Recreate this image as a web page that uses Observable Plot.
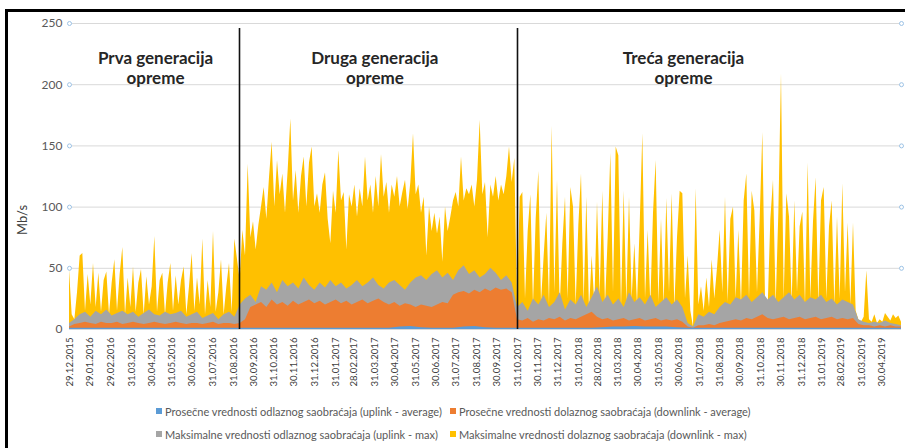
<!DOCTYPE html>
<html><head><meta charset="utf-8">
<script src="https://cdn.jsdelivr.net/npm/d3@7"></script>
<script src="https://cdn.jsdelivr.net/npm/@observablehq/plot@0.6"></script>
<style>
body{margin:0;background:#fff;width:905px;height:448px;position:relative;overflow:hidden;font-family:Lato,sans-serif}
#frame{position:absolute;left:5px;top:9px;width:920px;height:460px;border-top:3px solid #000;border-left:3px solid #000;box-sizing:border-box;pointer-events:none}
#chart{position:absolute;left:0;top:0}
#ylab{position:absolute;left:22px;top:220px;transform:translate(-50%,-50%) rotate(-90deg);font-size:13px;color:#404040;white-space:nowrap}
.leg{position:absolute;font-size:11px;color:#595959;white-space:nowrap;display:flex;align-items:center;height:14px}
.sw{width:6px;height:6px;margin-right:3px;display:inline-block}
</style>
</head><body>
<div id="chart"></div>
<div id="ylab">Mb/s</div>
<div id="legend"></div>
<div id="frame"></div>
<script>
// ---- data (daily series) ----
const startDate = "29.12.2015";
// downlink max, every 4 days
const downMax = [
49,12,8,30,60,62,15,45,20,54, 18,46,14,40,47,12,38,57,15,45,
67,12,42,18,51,14,38,49,12,43, 20,35,76,14,40,46,12,38,54,15,
44,20,40,51,12,35,62,15,42,20, 74,12,40,18,80,14,30,57,12,35,
54,14,74,57,
40,81,60,135,75,88,65,85,100,116,
90,124,153,100,138,110,127,95,130,172,
105,130,95,125,141,100,136,149,100,111,
95,118,128,90,70,113,95,146,105,112,
65,110,100,118,92,115,100,141,105,118,
95,125,100,143,108,120,95,118,108,125,
100,112,122,98,120,160,110,118,95,108,
60,100,80,95,78,92,55,100,80,92,
105,112,100,141,105,115,110,118,100,122,
171,110,120,75,118,108,125,105,118,110,
125,149,120,140,
20,108,112,25,80,110,20,90,129,22,
60,95,20,166,30,122,18,70,108,25,
116,100,20,85,127,22,108,15,60,20,
104,28,113,20,75,144,30,149,142,18,
113,22,108,25,70,20,85,160,25,81,
20,95,138,22,90,20,107,30,111,18,
75,113,111,25,60,15,2,115,20,35,
15,42,18,57,25,50,81,30,108,22,
90,100,25,81,20,105,127,25,113,97,
30,90,161,25,18,90,122,20,95,209,
25,111,92,22,105,30,84,96,20,136,
25,88,124,20,105,116,25,84,105,20,
92,25,119,30,87,20,87,15,8,6,
10,48,8,6,12,5,8,6,13,10,
7,12,9,11,6
];
// uplink max, every 8 days
const upMax = [
5,8,12,14,10,15,12,16,11,13,15,12,14,10,13,16,12,11,14,12,13,15,10,12,14,9,11,13,8,12,14,10,
20,25,28,22,35,32,38,30,40,35, 38,33,42,36,32,38,34,40,35,38, 33,36,40,35,38,42,36,33,38,40,
36,32,38,42,44,40,45,48,42,46, 40,48,52,45,48,42,45,50,46,40, 44,38,
18,22,15,25,20,28,18,22,30,16, 24,20,28,18,26,35,22,28,20,25, 18,30,22,26,20,28,18,22,26,20,
24,18,5,2,12,10,14,12,18,22, 20,26,24,28,22,26,30,24,28,22, 26,30,24,28,22,26,24,28,22,25,
20,24,22,20,8,6,5,6,5,7, 5,4,3
];
// downlink average, every 8 days
const downAvg = [
2,4,5,6,5,4,6,5,5,6,4,5,6,5,4,5,6,5,4,5,6,5,4,5,5,4,5,6,4,5,5,4,
5,8,18,20,22,18,24,20,22,19, 23,20,22,24,21,23,20,22,24,21, 23,20,22,24,21,23,25,22,20,22,
19,21,20,18,20,19,18,20,22,21, 28,30,31,29,32,30,33,31,34,32, 33,30,
8,7,9,6,8,7,9,8,10,7, 9,8,10,12,14,10,8,9,7,8, 9,7,8,9,7,8,9,7,8,7,
8,6,2,1,3,3,4,3,5,6, 7,8,7,9,8,10,12,9,8,9, 10,8,9,10,8,9,10,8,9,10,
8,9,8,9,4,3,3,2,3,2, 3,2,2
];
// uplink average, every 16 days
const upAvg = [
1,1,1,1,1,1,1,1,1,1, 1,1,1,1,1,1,1,1,1,1, 1,1,1,1,1,1,1,1,1,1, 1,
2,2.5,1.5,1,1,1,2,2.5,1.5,
1,1,1,1,1,1,1,1,1,1,
1.5,2,2,2.5,2,2,2,1.5,
1,1,1,1,1,1,1,1,1,1, 1,1,1,1,1,1,1,1,1,1, 1
];
const seriesNames = [
  "Prosečne vrednosti odlaznog saobraćaja (uplink - average)",
  "Prosečne vrednosti dolaznog saobraćaja (downlink - average)",
  "Maksimalne vrednosti odlaznog saobraćaja (uplink - max)",
  "Maksimalne vrednosti dolaznog saobraćaja (downlink - max)"
];
const tickLabels = ["29.12.2015","29.01.2016","29.02.2016","31.03.2016","30.04.2016","31.05.2016","30.06.2016","31.07.2016","31.08.2016","30.09.2016","31.10.2016","30.11.2016","31.12.2016","31.01.2017","28.02.2017","31.03.2017","30.04.2017","31.05.2017","30.06.2017","31.07.2017","31.08.2017","30.09.2017","31.10.2017","30.11.2017","31.12.2017","31.01.2018","28.02.2018","31.03.2018","30.04.2018","31.05.2018","30.06.2018","31.07.2018","31.08.2018","30.09.2018","31.10.2018","30.11.2018","31.12.2018","31.01.2019","28.02.2019","31.03.2019","30.04.2019"];
const yTicks = [0,50,100,150,200,250];
const generations = ["Prva generacija\nopreme","Druga generacija\nopreme","Treća generacija\nopreme"];
const generationCenters = ["06.05.2016","31.03.2017","07.07.2018"];
const boundaries = ["09.09.2016","31.10.2017"];
const endDate = "30.05.2019";

// ---- build ----
const parse = d3.utcParse("%d.%m.%Y");
const fmt = d3.utcFormat("%d.%m.%Y");
const DAY = 864e5;
const t0 = parse(startDate).getTime();
const mk = (arr, step) => arr.map((v, i) => ({date: new Date(t0 + i * step * DAY), v}));
const colors = ["#5B9BD5", "#ED7D31", "#A5A5A5", "#FFC000"];
const x0 = parse(startDate), x1 = parse(endDate);

const chart = Plot.plot({
  width: 905, height: 395,
  marginTop: 23, marginBottom: 66, marginLeft: 69, marginRight: 4,
  style: {background: "transparent", fontFamily: "Lato, sans-serif", color: "#595959", overflow: "visible"},
  x: {type: "utc", domain: [x0, x1]},
  y: {domain: [0, 250]},
  marks: [
    Plot.gridY(yTicks.filter(d => d > 0), {stroke: "#D9D9D9", strokeOpacity: 1}),
    Plot.ruleY([0], {stroke: "#D9D9D9"}),
    Plot.areaY(mk(downMax, 4), {x: "date", y: "v", fill: colors[3]}),
    Plot.areaY(mk(upMax, 8), {x: "date", y: "v", fill: colors[2]}),
    Plot.areaY(mk(downAvg, 8), {x: "date", y: "v", fill: colors[1]}),
    Plot.areaY(mk(upAvg, 16), {x: "date", y: "v", fill: colors[0]}),
    Plot.ruleX(boundaries.map(parse), {y1: 0, y2: 246, stroke: "#111", strokeWidth: 1.6}),
    Plot.axisY(yTicks, {tickSize: 0, tickPadding: 7, fontSize: 12, label: null}),
    Plot.axisX(tickLabels.map(parse), {tickSize: 0, tickPadding: 8, tickRotate: -90, fontSize: 9.6, fill: "#404040", tickFormat: fmt, label: null}),
    Plot.dot(yTicks.filter(d => d > 0), {x: x0, y: d => d, r: 2, fill: "white", stroke: "#9DC3E6", strokeWidth: 1}),
    Plot.dot(yTicks.filter(d => d > 0), {x: x1, y: d => d, r: 2, fill: "white", stroke: "#9DC3E6", strokeWidth: 1}),
    Plot.text(generations, {x: (d, i) => parse(generationCenters[i]), y: 214, text: d => d, fontSize: 17, fontWeight: "bold", fill: "#262626", lineHeight: 1.18, textAnchor: "middle"})
  ]
});
document.getElementById("chart").append(chart);

// legend
const legPos = [[156, 404], [450, 404], [156, 427], [450, 427]];
const legend = document.getElementById("legend");
seriesNames.forEach((name, i) => {
  const el = document.createElement("div");
  el.className = "leg";
  el.style.left = legPos[i][0] + "px";
  el.style.top = legPos[i][1] + "px";
  const sw = document.createElement("span");
  sw.className = "sw";
  sw.style.background = colors[i];
  el.append(sw, document.createTextNode(name));
  legend.append(el);
});
</script>
</body></html>
